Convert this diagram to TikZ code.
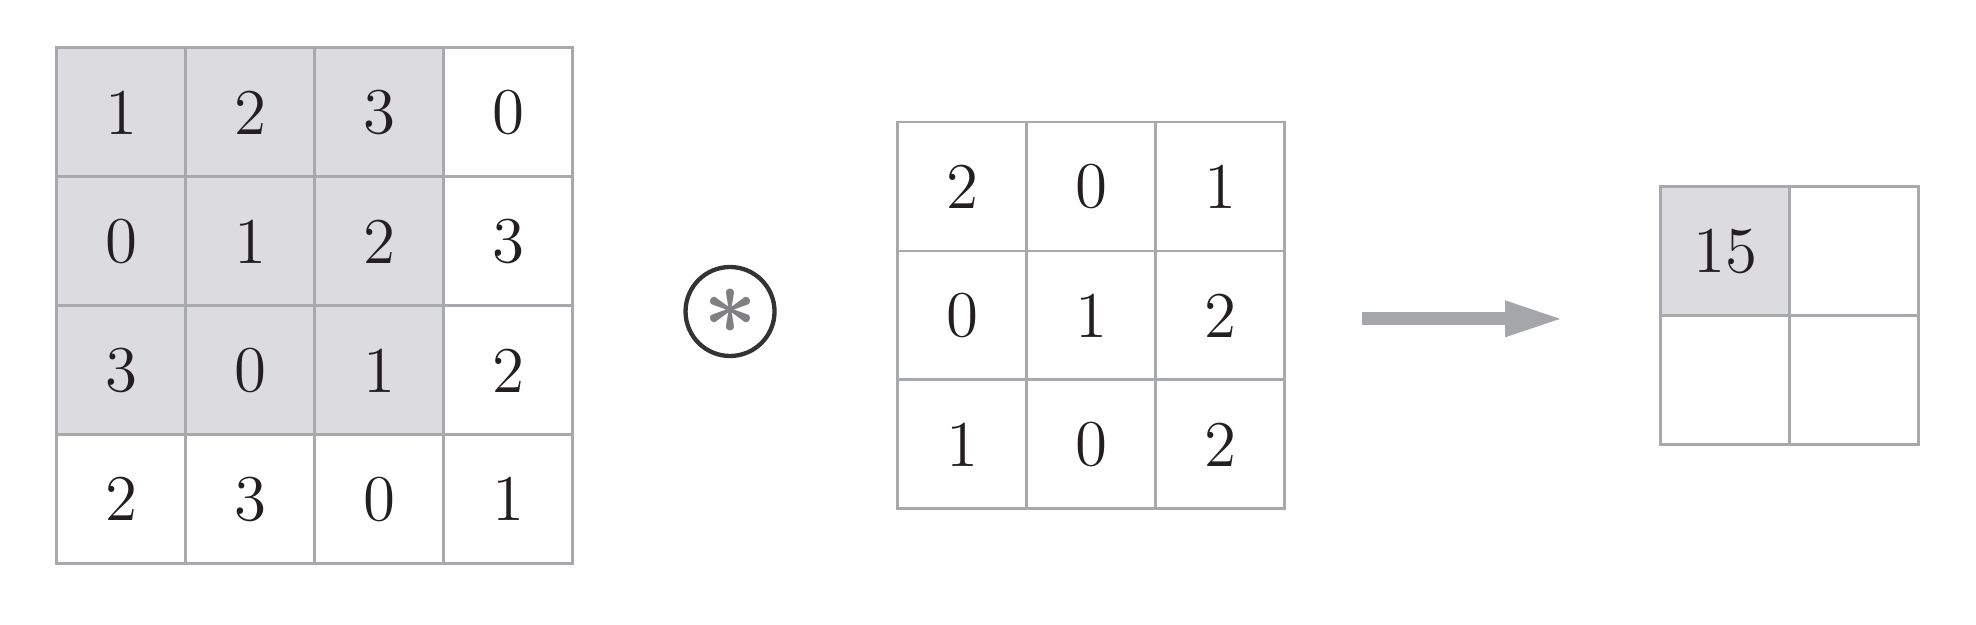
\documentclass[tikz,border=0pt]{standalone}
\usetikzlibrary{arrows.meta}

\definecolor{gridgrey}{RGB}{168,169,173}
\definecolor{cellgrey}{RGB}{220,220,222}
\definecolor{numblack}{RGB}{35,31,32}
\definecolor{ringblack}{RGB}{51,51,51}
\definecolor{stargrey}{RGB}{128,128,130}
\definecolor{arrowgrey}{RGB}{165,166,170}

\tikzset{
  cell/.style={draw=gridgrey, line width=0.6pt, minimum size=1cm,
    inner sep=0pt, text=numblack, font=\Large},
}

\begin{document}
\begin{tikzpicture}[scale=1]

\useasboundingbox (0,0) rectangle (15.32,4.845);

% input 4x4, the 3x3 window in grey
\foreach \vals [count=\r from 0] in {{1,2,3,0},{0,1,2,3},{3,0,1,2},{2,3,0,1}}
  \foreach \v [count=\c from 0] in \vals {
    \def\cellfill{white}
    \ifnum\r<3 \ifnum\c<3 \def\cellfill{cellgrey}\fi\fi
    \node[cell, fill=\cellfill] (in-\r-\c) at (0.94+\c, 3.974-\r) {\v};
  }

% convolution sign
\node[circle, draw=ringblack, line width=0.95pt, minimum size=0.69cm,
  inner sep=0pt, text=stargrey, font=\huge\boldmath] (conv) at (5.66,2.43) {$\ast$};

% kernel 3x3
\foreach \vals [count=\r from 0] in {{2,0,1},{0,1,2},{1,0,2}}
  \foreach \v [count=\c from 0] in \vals {
    \node[cell] (ker-\r-\c) at (7.46+\c, 3.40-\r) {\v};
  }

% arrow to the output
\coordinate (arrowtail) at (10.56,2.373);
\coordinate (arrowtip) at (12.13,2.373);
\draw[-{Triangle[length=0.46cm, width=0.25cm]}, arrowgrey, line width=0.103cm]
  (arrowtail) -- (arrowtip);

% output 2x2, only the first value filled in
\node[cell, fill=cellgrey] (out-0-0) at (13.376,2.899) {15};
\node[cell] (out-0-1) at (14.376,2.899) {};
\node[cell] (out-1-0) at (13.376,1.899) {};
\node[cell] (out-1-1) at (14.376,1.899) {};

\end{tikzpicture}
\end{document}
